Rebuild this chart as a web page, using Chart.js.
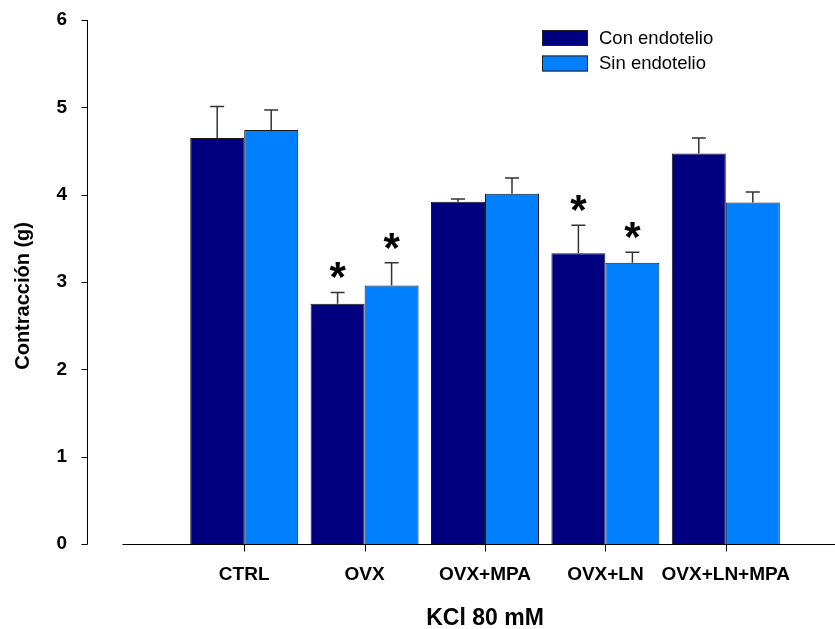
<!DOCTYPE html>
<html>
<head>
<meta charset="utf-8">
<script src="https://cdn.jsdelivr.net/npm/chart.js@4/dist/chart.umd.min.js"></script>
<style>
  html, body { margin: 0; padding: 0; background: #fff; }
</style>
</head>
<body>
<canvas id="chart" width="835" height="629"></canvas>
<script>
/* globals Chart */

// groups on the x axis
const groups = ["CTRL", "OVX", "OVX+MPA", "OVX+LN", "OVX+LN+MPA"];

// mean contraction (g) and SEM
const conEndotelio = [4.65, 2.75, 3.92, 3.33, 4.47];
const conEndotelioSem = [0.36, 0.13, 0.03, 0.32, 0.18];
const sinEndotelio = [4.74, 2.96, 4.01, 3.22, 3.91];
const sinEndotelioSem = [0.23, 0.26, 0.18, 0.12, 0.12];

// bars marked with * in the figure
const conSig = [false, true, false, true, false];
const sinSig = [false, true, false, true, false];

const yTicks = [0, 1, 2, 3, 4, 5, 6];

const FONT = "'Liberation Sans', Arial, sans-serif";

// error bars, asterisks, sigmaplot style axes and the legend
const extras = {
    id: "extras",
    afterDatasetsDraw(chart) {
        let ctx = chart.ctx;
        let xs = chart.scales.x;
        let ys = chart.scales.y;
        ctx.save();

        chart.data.datasets.forEach((ds, di) => {
            let meta = chart.getDatasetMeta(di);
            meta.data.forEach((bar, i) => {
                let top = ys.getPixelForValue(ds.data[i] + ds.sem[i]);
                ctx.strokeStyle = "#333";
                ctx.lineWidth = 1.5;
                ctx.beginPath();
                ctx.moveTo(bar.x, bar.y);
                ctx.lineTo(bar.x, top);
                ctx.moveTo(bar.x - 7, top);
                ctx.lineTo(bar.x + 7, top);
                ctx.stroke();

                if (ds.sig[i]) {
                    ctx.font = "bold 42px " + FONT;
                    ctx.fillStyle = "#000";
                    ctx.textAlign = "center";
                    ctx.textBaseline = "alphabetic";
                    let m = ctx.measureText("*");
                    let cy = top - 22;
                    let base = cy + (m.actualBoundingBoxAscent - m.actualBoundingBoxDescent) / 2;
                    ctx.fillText("*", bar.x, base);
                }
            });
        });

        // axes
        ctx.strokeStyle = "#000";
        ctx.lineWidth = 1;
        ctx.beginPath();
        let ax = 87.5;
        ctx.moveTo(ax, ys.getPixelForValue(yTicks[yTicks.length - 1]));
        ctx.lineTo(ax, ys.getPixelForValue(0) + 0.5);
        yTicks.forEach(v => {
            let py = Math.round(ys.getPixelForValue(v)) + 0.5;
            ctx.moveTo(ax - 6, py);
            ctx.lineTo(ax, py);
        });
        let ay = Math.round(ys.getPixelForValue(0)) + 0.5;
        ctx.moveTo(122.5, ay);
        ctx.lineTo(chart.width, ay);
        groups.forEach((g, i) => {
            let px = Math.round(xs.getPixelForValue(i)) + 0.5;
            ctx.moveTo(px, ay);
            ctx.lineTo(px, ay + 7);
        });
        ctx.stroke();

        // legend
        chart.data.datasets.forEach((ds, di) => {
            let by = 30 + di * 25.5;
            ctx.fillStyle = ds.backgroundColor;
            ctx.fillRect(542, by, 46, 16);
            ctx.strokeStyle = "#222";
            ctx.lineWidth = 1;
            ctx.strokeRect(542.5, by + 0.5, 45, 15);
            ctx.fillStyle = "#000";
            ctx.font = "18.5px " + FONT;
            ctx.textAlign = "left";
            ctx.textBaseline = "middle";
            ctx.fillText(ds.label, 599, by + 8.5);
        });

        ctx.restore();
    }
};

new Chart(document.getElementById("chart"), {
    type: "bar",
    data: {
        labels: groups,
        datasets: [
            {
                label: "Con endotelio",
                data: conEndotelio,
                sem: conEndotelioSem,
                sig: conSig,
                backgroundColor: "#000080",
                borderColor: "#1a1a1a",
                borderWidth: 1
            },
            {
                label: "Sin endotelio",
                data: sinEndotelio,
                sem: sinEndotelioSem,
                sig: sinSig,
                backgroundColor: "#0080ff",
                borderColor: "#1a1a1a",
                borderWidth: 1
            }
        ]
    },
    options: {
        responsive: false,
        animation: false,
        devicePixelRatio: 1,
        layout: { padding: { top: 20, right: 49, left: 0, bottom: 0 }, autoPadding: false },
        datasets: { bar: { categoryPercentage: 0.897, barPercentage: 1 } },
        plugins: { legend: { display: false }, tooltip: { enabled: false } },
        scales: {
            x: {
                grid: { display: false, drawTicks: false },
                border: { display: false },
                ticks: {
                    color: "#000",
                    padding: 19,
                    autoSkip: false,
                    maxRotation: 0,
                    minRotation: 0,
                    font: { family: FONT, size: 19, weight: "bold" }
                },
                title: {
                    display: true,
                    text: "KCl 80 mM",
                    color: "#000",
                    padding: 0,
                    font: { family: FONT, size: 23, weight: "bold", lineHeight: 0.9 }
                },
                afterFit(s) { s.height = 85; }
            },
            y: {
                min: 0,
                max: 6,
                grid: { display: false, drawTicks: false },
                border: { display: false },
                afterBuildTicks(s) { s.ticks = yTicks.map(v => ({ value: v })); },
                ticks: { color: "#000", padding: 117, font: { family: FONT, size: 19, weight: "bold" } },
                title: {
                    display: true,
                    // trailing spaces nudge the title a little below the axis centre, as in the original
                    text: "Contracción (g)     ",
                    color: "#000",
                    padding: { top: 11, bottom: 0 },
                    font: { family: FONT, size: 20, weight: "bold" }
                },
                afterFit(s) {
                    s.width = 184;
                    // the big label padding must not push the plot area down
                    s.paddingTop = 0;
                    s.paddingBottom = 0;
                }
            }
        }
    },
    plugins: [extras]
});
</script>
</body>
</html>
